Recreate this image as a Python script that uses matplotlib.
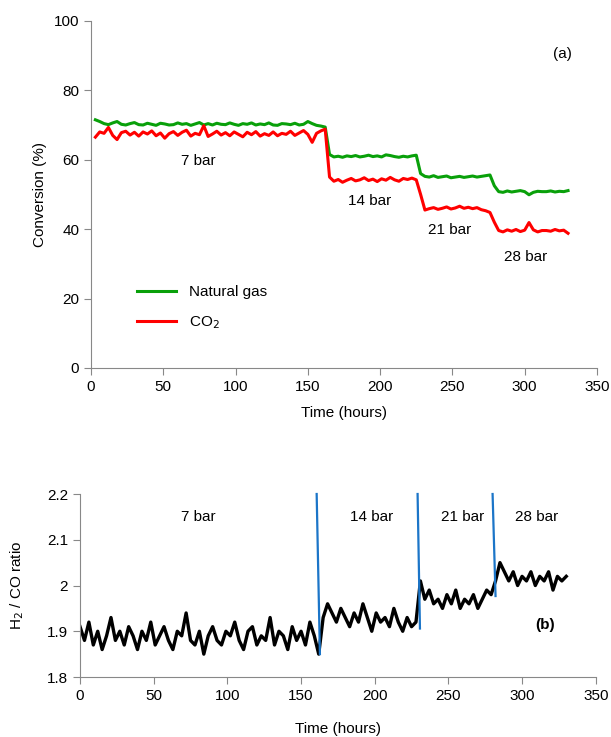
import numpy as np
import matplotlib.pyplot as plt

plt.rcParams['font.family'] = ['Liberation Sans', 'DejaVu Sans']
plt.rcParams['font.size'] = 11

# (a) conversion, sampled every 3 h from t = 3 h
conv_time = np.arange(3, 331, 3)
natural_gas = [
    71.5, 71.0, 70.4, 70.1, 70.6, 71.0, 70.2, 70.0, 70.4, 70.7,
    70.1, 70.0, 70.5, 70.2, 69.9, 70.5, 70.3, 70.0, 70.1, 70.6,
    70.2, 70.4, 69.9, 70.3, 70.7, 70.0, 70.4, 70.0, 70.5, 70.2,
    70.1, 70.6, 70.2, 69.9, 70.4, 70.2, 70.6, 70.0, 70.3, 70.1,
    70.6, 70.0, 69.9, 70.4, 70.3, 70.1, 70.5, 70.0, 70.2, 71.0,
    70.4, 69.9, 69.7, 69.4,
    61.5, 60.8, 61.0, 60.7, 61.1, 60.9, 61.2, 60.8, 61.0, 61.3,
    60.9, 61.1, 60.8, 61.4, 61.2, 60.9, 60.7, 61.0, 60.8, 61.1, 61.3,
    56.0, 55.2, 55.0, 55.4, 54.9, 55.1, 55.3, 54.8, 55.0, 55.2,
    54.9, 55.1, 55.3, 55.0, 55.2, 55.4, 55.6,
    52.5, 50.8, 50.6, 51.0, 50.7, 50.9, 51.1, 50.8, 49.9, 50.6,
    50.9, 50.8, 50.8, 51.0, 50.7, 50.9, 50.8, 51.1,
]
co2 = [
    66.5, 68.0, 67.6, 69.3, 67.0, 65.8, 67.8, 68.2, 67.1, 67.9,
    66.8, 68.0, 67.4, 68.3, 66.9, 67.7, 66.2, 67.5, 68.1, 67.0,
    67.9, 68.5, 66.8, 67.6, 67.2, 69.8, 66.7, 67.4, 68.2, 67.1,
    67.8, 66.9, 68.0, 67.3, 66.6, 67.9, 67.2, 68.1, 66.8, 67.5,
    67.0, 68.0, 66.9, 67.6, 67.3, 68.2, 67.0, 67.7, 68.4, 67.3,
    65.0, 67.6, 68.3, 68.8,
    55.0, 53.8, 54.3, 53.5, 54.1, 54.6, 53.9, 54.2, 54.8, 54.0,
    54.4, 53.7, 54.5, 54.1, 54.9, 54.2, 53.8, 54.6, 54.3, 54.7, 54.2,
    50.0, 45.5, 45.9, 46.2, 45.7, 46.0, 46.4, 45.8, 46.1, 46.6,
    46.0, 46.3, 45.9, 46.2, 45.6, 45.3, 44.8,
    42.0, 39.6, 39.2, 39.8, 39.4, 39.9, 39.3, 39.7, 41.9, 39.8,
    39.2, 39.6, 39.6, 39.4, 39.9, 39.5, 39.7, 38.8,
]

# (b) H2/CO ratio, sampled every 3 h from t = 0 h
ratio_time = np.arange(0, 331, 3)
h2_co = [
    1.91, 1.88, 1.92, 1.87, 1.90, 1.86, 1.89, 1.93, 1.88, 1.90,
    1.87, 1.91, 1.89, 1.86, 1.90, 1.88, 1.92, 1.87, 1.89, 1.91,
    1.88, 1.86, 1.90, 1.89, 1.94, 1.88, 1.87, 1.90, 1.85, 1.89,
    1.91, 1.88, 1.87, 1.90, 1.89, 1.92, 1.88, 1.86, 1.90, 1.91,
    1.87, 1.89, 1.88, 1.93, 1.87, 1.90, 1.89, 1.86, 1.91, 1.88,
    1.90, 1.87, 1.92, 1.89,
    1.85,
    1.93, 1.96, 1.94, 1.92, 1.95, 1.93, 1.91, 1.94, 1.92, 1.96,
    1.93, 1.90, 1.94, 1.92, 1.93, 1.91, 1.95, 1.92, 1.90, 1.93,
    1.91, 1.92,
    2.01, 1.97, 1.99, 1.96, 1.97, 1.95, 1.98, 1.96, 1.99, 1.95,
    1.97, 1.96, 1.98, 1.95, 1.97, 1.99, 1.98,
    2.01, 2.05, 2.03, 2.01, 2.03, 2.00, 2.02, 2.01, 2.03, 2.00,
    2.02, 2.01, 2.03, 1.99, 2.02, 2.01, 2.02,
]

# blue pressure-change markers in (b): (x_top, x_bottom, y_bottom)
step_x_top = [160.6, 229.1, 280.0]
step_x_bot = [162.8, 230.7, 282.0]
step_y_bot = [1.85, 1.906, 1.977]

labels_a = ['7 bar', '14 bar', '21 bar', '28 bar']
labels_a_x = [74, 193, 248, 301]
labels_a_y = [59.5, 48, 39.7, 32]
labels_b_x = [80, 198, 260, 310]

spine_col = '#888888'

fig = plt.figure(figsize=(6.11, 7.37), dpi=100)
ax1 = fig.add_axes([0.149, 0.5007, 0.828, 0.471])
ax2 = fig.add_axes([0.131, 0.0814, 0.844, 0.2483])

ax1.plot(conv_time, natural_gas, color='#09a00a', lw=2.2, label='Natural gas')
ax1.plot(conv_time, co2, color='#ff0000', lw=2.2, label='CO$_2$')
ax1.set_xlim(0, 350)
ax1.set_ylim(0, 100)
ax1.set_xticks(range(0, 351, 50))
ax1.set_yticks(range(0, 101, 20))
ax1.set_xlabel('Time (hours)', labelpad=9)
ax1.set_ylabel('Conversion (%)', labelpad=5)
for lab, x, y in zip(labels_a, labels_a_x, labels_a_y):
    ax1.text(x, y, lab, ha='center', va='center')
ax1.text(326, 90.5, '(a)', ha='center', va='center')
ax1.legend(loc='upper left', bbox_to_anchor=(0.063, 0.279), frameon=False,
           handlelength=2.6, handletextpad=0.85, labelspacing=1.0)

ax2.plot(ratio_time, h2_co, color='black', lw=2.4)
for xt, xb, yb in zip(step_x_top, step_x_bot, step_y_bot):
    ax2.plot([xt, xb], [2.2, yb], color='#1b75c8', lw=1.6, clip_on=False)
ax2.set_xlim(0, 350)
ax2.set_ylim(1.8, 2.2)
ax2.set_xticks(range(0, 351, 50))
ax2.set_yticks([1.8, 1.9, 2.0, 2.1, 2.2])
ax2.set_yticklabels(['1.8', '1.9', '2', '2.1', '2.2'])
ax2.set_xlabel('Time (hours)', labelpad=14)
ax2.set_ylabel('H$_2$ / CO ratio', labelpad=15)
for lab, x in zip(labels_a, labels_b_x):
    ax2.text(x, 2.15, lab, ha='center', va='center')
ax2.text(315.5, 1.914, '(b)', ha='center', va='center', fontweight='bold')

for ax in (ax1, ax2):
    ax.spines['top'].set_visible(False)
    ax.spines['right'].set_visible(False)
    ax.spines['left'].set_color(spine_col)
    ax.spines['bottom'].set_color(spine_col)
    ax.tick_params(direction='out', length=5, color=spine_col, labelcolor='black')

fig.savefig('out.png', dpi=100)
